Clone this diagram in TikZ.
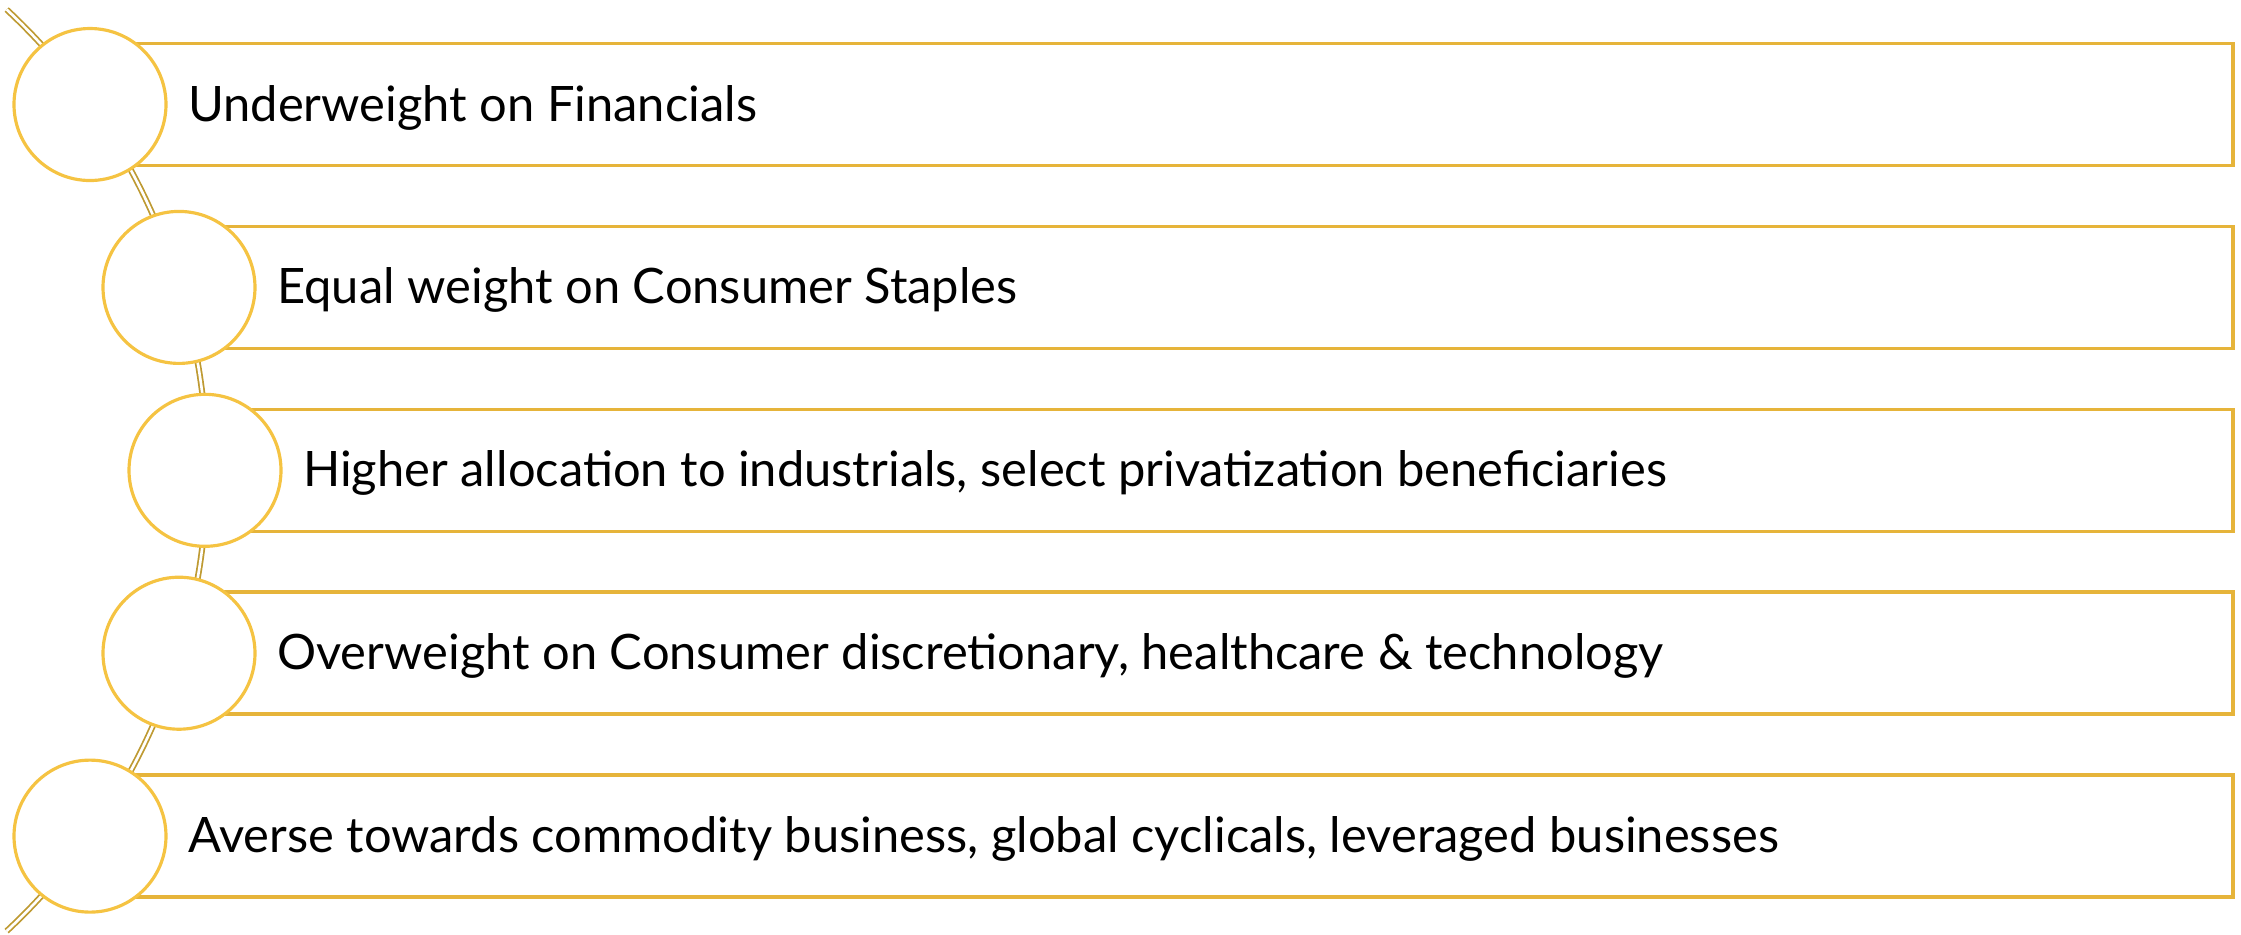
\documentclass[tikz,border=0pt]{standalone}
\usepackage{fontspec}
\setmainfont{Lato}
\usetikzlibrary{positioning}
\definecolor{ringgold}{HTML}{F5C342}
\definecolor{boxgold}{HTML}{E6B43A}
\definecolor{spinegold}{HTML}{BE9A32}
\begin{document}
\begin{tikzpicture}[line cap=butt]
    \tikzset{ring/.style={circle, draw=ringgold, line width=0.9pt, fill=white, minimum size=1.52cm, inner sep=0pt},
             rowbox/.style={rectangle, draw=boxgold, line width=1pt, minimum height=1.22cm, inner sep=0pt, anchor=west},
             rowtext/.style={inner sep=0pt, font=\fontsize{13.9}{17}\selectfont}}
  % parameters
  \def\dy{1.829}    % row spacing (cm)
  \def\ytop{1.045}  % centre of the first row below the top edge (cm)
  \def\xr{22.31}    % right edge of the boxes (cm)

  \useasboundingbox (0,0) rectangle (22.41,-9.34);

  % boxes first, they start under the rings
  \foreach \i/\x in {1/0.90, 2/1.79, 3/2.05, 4/1.79, 5/0.90} {
    \pgfmathsetmacro{\w}{\xr-\x}
    \node[rowbox, minimum width=\w cm] (b\i) at (\x, {-\ytop-(\i-1)*\dy}) {};
  }

  % spine through the ring centres
  \draw[spinegold, line width=0.5pt, double=white, double distance=0.75pt]
    (-4.23,-4.703) ++(47:6.3) arc (47:-47:6.3);

  % rings and texts
  \foreach \i/\x/\txt in {1/0.90/{Underweight on Financials},
                          2/1.79/{Equal weight on Consumer Staples},
                          3/2.05/{Higher allocation to industrials, select privatization beneficiaries},
                          4/1.79/{Overweight on Consumer discretionary, healthcare \& technology},
                          5/0.90/{Averse towards commodity business, global cyclicals, leveraged businesses}} {
    \node[ring] (c\i) at (\x, {-\ytop-(\i-1)*\dy}) {};
    \node[rowtext, right=0.2cm of c\i, anchor=base west, yshift=-1.65mm] (t\i) {\txt};
  }
\end{tikzpicture}
\end{document}
